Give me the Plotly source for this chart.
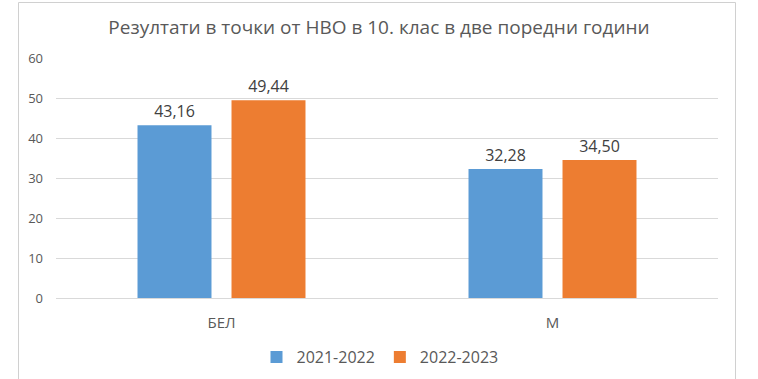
import plotly.graph_objects as go

categories = ["БЕЛ", "М"]
series_names = ["2021-2022", "2022-2023"]
values_2021_2022 = [43.16, 32.28]
values_2022_2023 = [49.44, 34.50]
colors = ["#5B9BD5", "#ED7D31"]
y_ticks = [0, 10, 20, 30, 40, 50, 60]
title_text = "Резултати в точки от НВО в 10. клас в две поредни години"

def fmt(v):
    return f"{v:.2f}".replace(".", ",")

font_family = "Open Sans, Noto Sans, sans-serif"

fig = go.Figure()
for name, vals, col in zip(series_names, [values_2021_2022, values_2022_2023], colors):
    fig.add_trace(go.Bar(
        x=categories, y=vals, name=name,
        marker=dict(color=col, line=dict(width=0)),
        text=[fmt(v) for v in vals],
        textposition="outside",
        textfont=dict(size=16, color="#404040", family=font_family),
        cliponaxis=False,
    ))

L, R, T, B = 56, 40, 58, 81
W, H = 758, 379
pw, ph = W - L - R, H - T - B

def px_x(x):
    return (x - L) / pw

def px_y(y):
    return (H - B - y) / ph

fig.update_layout(
    width=W, height=H,
    margin=dict(l=L, r=R, t=T, b=B, autoexpand=False),
    paper_bgcolor="white", plot_bgcolor="white",
    barmode="group", bargap=0.432, bargroupgap=0.213,
    title=dict(text=title_text, x=0.5, xanchor="center", y=1 - 27 / H, yanchor="middle",
               font=dict(size=19, color="#595959", family=font_family)),
    legend=dict(orientation="h", x=px_x(380), xanchor="center", y=px_y(357), yanchor="middle",
                font=dict(size=16, color="#595959", family=font_family),
                itemwidth=30, traceorder="normal"),
    font=dict(family=font_family),
    xaxis=dict(showline=False, ticks="", showgrid=False, automargin=False,
               tickfont=dict(size=15, color="#595959"), ticklabelstandoff=14),
    yaxis=dict(range=[0, 60], tickvals=y_ticks, showgrid=True, gridcolor="#D9D9D9", gridwidth=1,
               zeroline=True, zerolinecolor="#D9D9D9", zerolinewidth=1, showline=False, ticks="",
               automargin=False,
               tickfont=dict(size=13, color="#595959"), ticklabelstandoff=12),
    shapes=[dict(type="rect", xref="paper", yref="paper",
                 x0=px_x(18.5), x1=px_x(735.5), y0=px_y(385), y1=px_y(2.5),
                 line=dict(color="#D0D0D0", width=1), fillcolor="rgba(0,0,0,0)", layer="below")],
)

fig.write_html("out.html", config={"displayModeBar": False},
               post_script="document.body.style.margin='0px';")
